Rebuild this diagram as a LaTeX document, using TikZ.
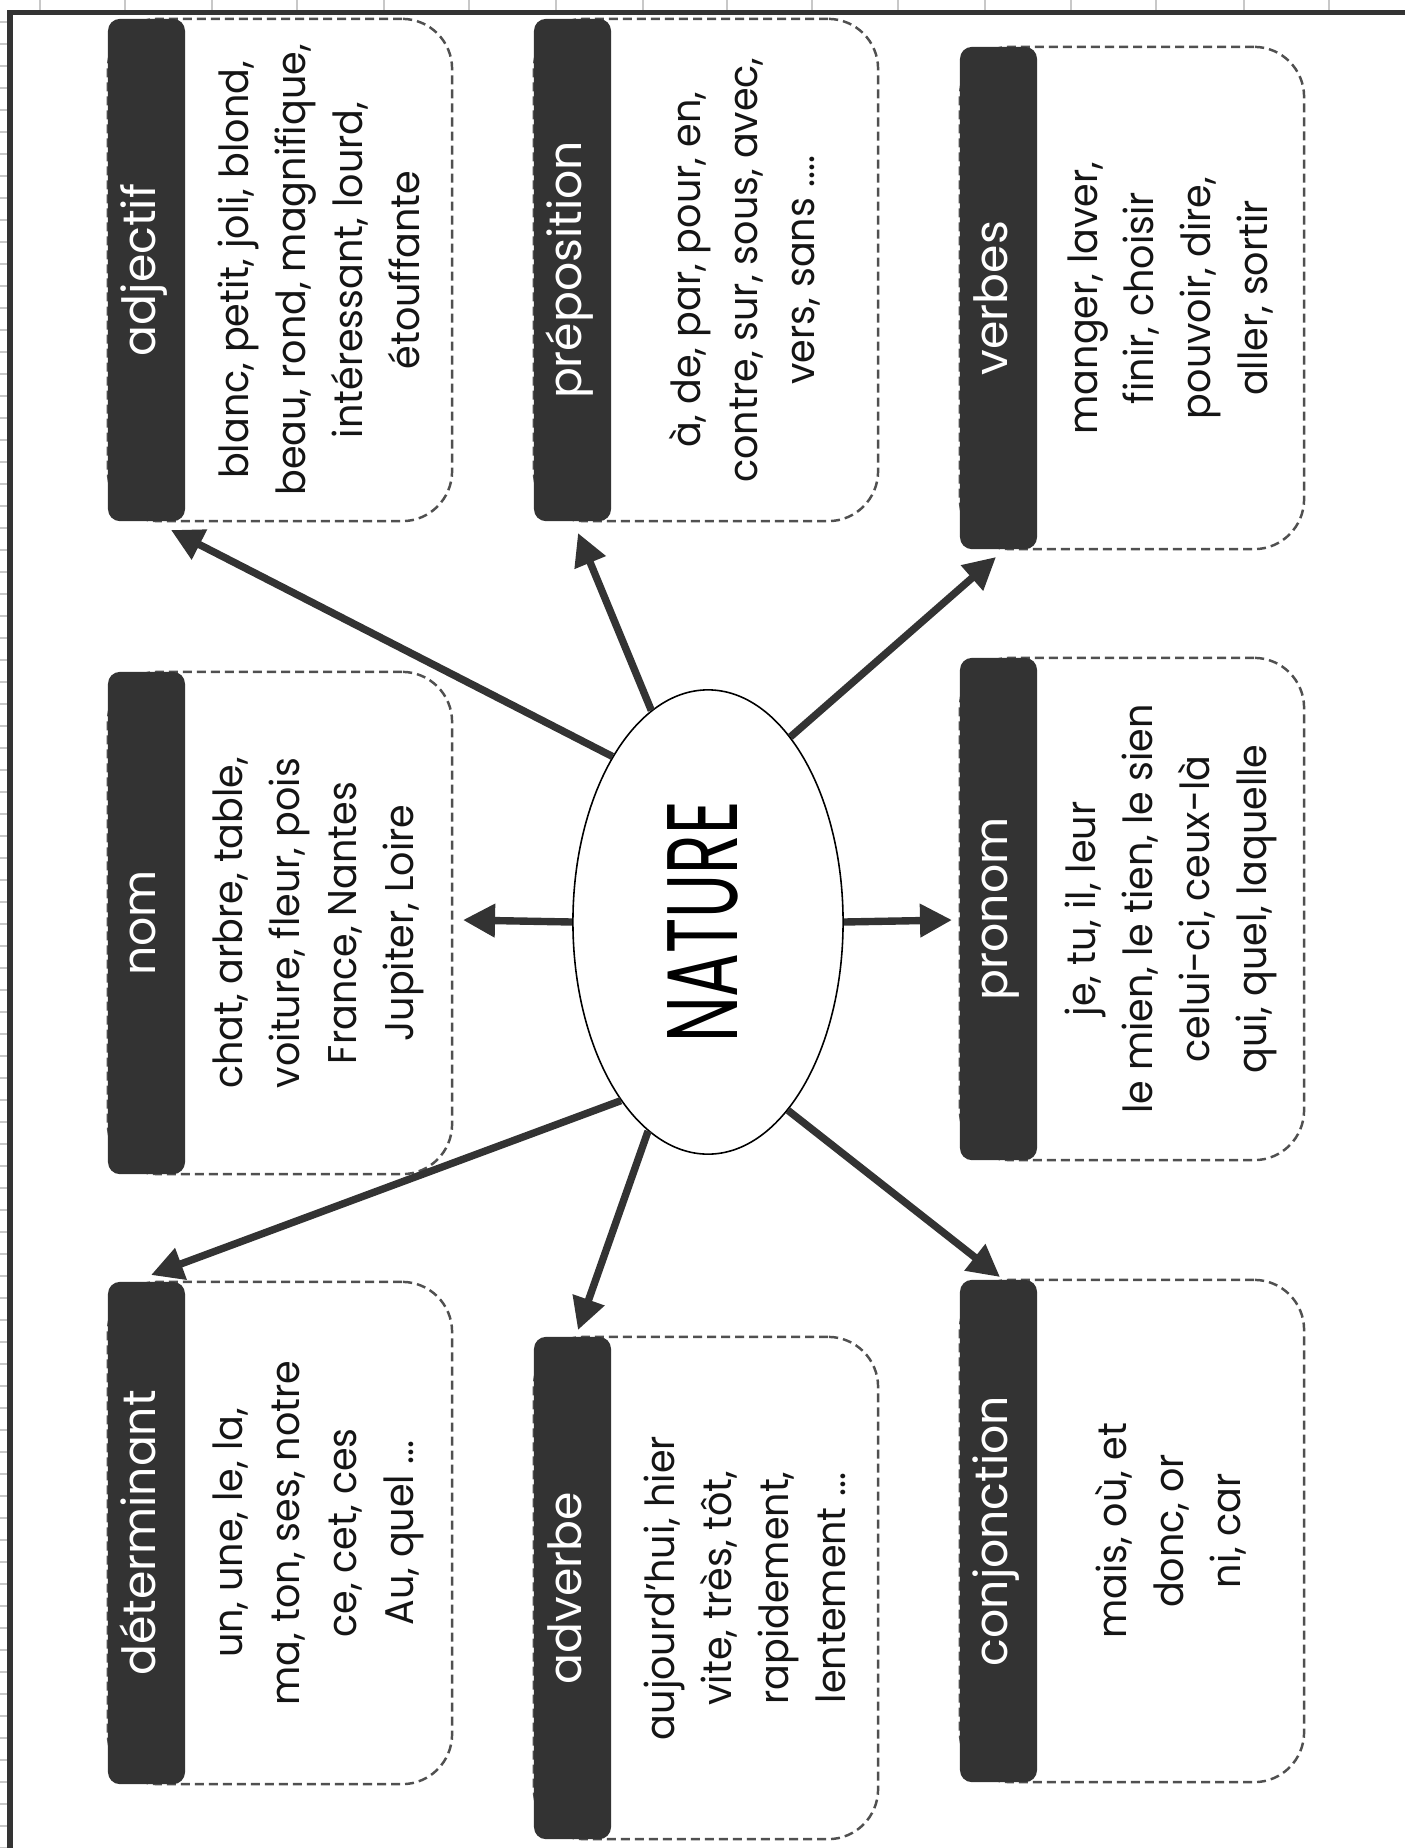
\documentclass[tikz,border=0pt]{standalone}
\usepackage{fontspec}
\setmainfont[FakeStretch=0.95]{Poppins}
\newfontfamily\labfont{Poppins}
\newfontfamily\natfont[FakeStretch=0.65]{Poppins}
\usetikzlibrary{shapes.geometric,arrows.meta}
\definecolor{dark}{HTML}{333333}
\definecolor{dashgray}{HTML}{505050}
\definecolor{gridgray}{HTML}{C8C8C8}
\definecolor{txt}{HTML}{151515}
\newcommand\gbox[5]{%
  \node[dbox] (#1box) at ({#2+172},{#3+251}) {};
  \node[catbar] (#1bar) at ({#2+38.5},{#3+251}) {};
  \node[catlabel] (#1lab) at ({#2+38.5},{#3+251}) {#4};
  \node[words] (#1txt) at ({#2+210.5},{#3+251}) {#5};
}
\begin{document}
\begin{tikzpicture}[x=0.01cm,y=-0.01cm,
  dbox/.style={draw=dashgray, line width=0.7pt, dash pattern=on 0.09cm off 0.05cm,
    rounded corners=0.5cm, minimum width=3.44cm, minimum height=5.02cm, inner sep=0pt, fill=white},
  catbar/.style={fill=dark, rounded corners=0.12cm, minimum width=0.77cm,
    minimum height=5.02cm, inner sep=0pt},
  catlabel/.style={rotate=90, text=white, font=\labfont\fontsize{13}{15}\selectfont,
    inner sep=0pt, text height=0.72em, text depth=0.22em},
  words/.style={rotate=90, align=center, text=txt,
    font=\fontsize{11.4}{16.2}\selectfont, inner sep=0pt},
  arr/.style={draw=dark, line width=2.1pt, -{Triangle[length=0.32cm,width=0.32cm]}},
]
\fill[white] (0,0) rectangle (1405,1848);
\useasboundingbox (0,0) rectangle (1405,1848);
% spreadsheet grid in the margins
\foreach \gx in {40,125,212,297,384,469,556,643,727,812,898,985,1071,1156,1244,1329}
  \draw[gridgray, line width=0.4pt] (\gx,0) -- (\gx,10);
\foreach \gy in {22,44,...,1848}
  \draw[gridgray, line width=0.4pt] (0,\gy) -- (7,\gy);
% frame
\draw[dark, line width=0.05cm] (10,1848) -- (10,12.5) -- (1405,12.5);

% boxes
\gbox{adj}{108}{19}{adjectif}{blanc, petit, joli, blond,\\beau, rond, magnifique,\\intéressant, lourd,\\étouffante}
\gbox{nom}{108}{672}{nom}{chat, arbre, table,\\voiture, fleur, pois\\France, Nantes\\Jupiter, Loire}
\gbox{det}{108}{1282}{déterminant}{un, une, le, la,\\ma, ton, ses, notre\\ce, cet, ces\\Au, quel ...}
\gbox{prep}{534}{19}{préposition}{à, de, par, pour, en,\\contre, sur, sous, avec,\\vers, sans ....}
\gbox{adv}{534}{1337}{adverbe}{aujourd’hui, hier\\vite, très, tôt,\\rapidement,\\lentement ...}
\gbox{verb}{960}{47}{verbes}{manger, laver,\\finir, choisir\\pouvoir, dire,\\aller, sortir}
\gbox{pron}{960}{658}{pronom}{je, tu, il, leur\\le mien, le tien, le sien\\celui-ci, ceux-là\\qui, quel, laquelle}
\gbox{conj}{960}{1280}{conjonction}{mais, où, et\\donc, or\\ni, car}

% centre
\node[ellipse, draw=black, line width=0.45pt, fill=white, minimum width=2.70cm,
  minimum height=4.64cm, inner sep=0pt] (nat) at (708,922) {};
\node[rotate=90, inner sep=0pt, font=\natfont\fontsize{28.5}{30}\selectfont] (natlab) at (703,922) {NATURE};

% arrow tips
\coordinate (adjtip) at (171,530);
\coordinate (preptip) at (578,533);
\coordinate (verbtip) at (996,557);
\coordinate (nomtip) at (463,920);
\coordinate (prontip) at (952,920);
\coordinate (dettip) at (151,1275);
\coordinate (advtip) at (578,1330);
\coordinate (conjtip) at (1000,1277);

\draw[arr] (nat.120) -- (adjtip);
\draw[arr] (nat.105) -- (preptip);
\draw[arr] (nat.66) -- (verbtip);
\draw[arr] (nat.180) -- (nomtip);
\draw[arr] (nat.0) -- (prontip);
\draw[arr] (nat.244) -- (dettip);
\draw[arr] (nat.254) -- (advtip);
\draw[arr] (nat.293) -- (conjtip);
\end{tikzpicture}
\end{document}
